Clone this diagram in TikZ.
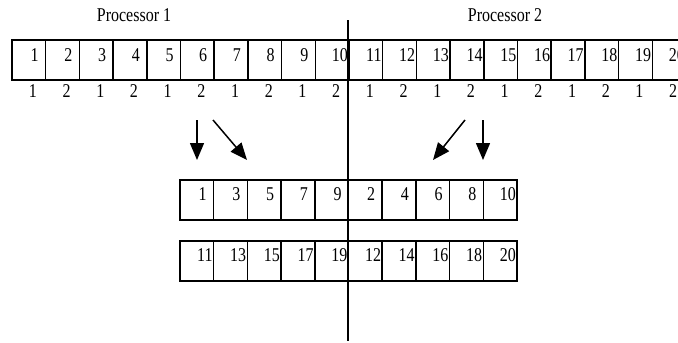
\documentclass[tikz,border=0pt]{standalone}
\usepackage{fontspec}
\setmainfont{Liberation Serif}
\usetikzlibrary{arrows.meta,calc}
\newcommand{\tall}[1]{\scalebox{1}[1.22]{#1}}
\begin{document}
\begin{tikzpicture}[x=1pt,y=-1pt,
  cell/.style={draw,line width=1.5pt,minimum width=33.7pt,minimum height=40pt,inner sep=0pt,outer sep=0pt,anchor=north west},
  num/.style={anchor=base east,inner sep=0pt,font=\fontsize{16}{16}\selectfont},
  lab/.style={anchor=base,inner sep=0pt,font=\fontsize{16}{16}\selectfont},
  arr/.style={line width=1.5pt,-{Triangle[length=17pt,width=14pt]}},
  divider/.style={line width=1.4pt}]
\useasboundingbox (0,0) rectangle (678,343);
\clip (0,0) rectangle (678,343);
% titles
\node[lab] (p1) at (134,21) {\tall{Processor 1}};
\node[lab] (p2) at (505,21) {\tall{Processor 2}};
% divider
\coordinate (dtop) at (348,20);
\coordinate (dbot) at (348,341);
\draw[divider] (dtop) -- (dbot);
% top row
\foreach \i in {1,...,20}{
  \node[cell] (t\i) at ({12+(\i-1)*33.7},40) {};
}
\foreach \i in {1,...,9}{
  \node[num] (tn\i) at ($(t\i.north east)+(-2,21)$) {\tall{\i}\kern0.3em};
}
\foreach \i in {10,...,20}{
  \node[num] (tn\i) at ($(t\i.north east)+(-1,21)$) {\tall{\i}};
}
% parity labels
\foreach \i/\v in {1/1,2/2,3/1,4/2,5/1,6/2,7/1,8/2,9/1,10/2,11/1,12/2,13/1,14/2,15/1,16/2,17/1,18/2,19/1,20/2}{
  \node[lab] (l\i) at ($(t\i.south)+(4,17)$) {\tall{\v}};
}
% second row
\foreach \v [count=\i] in {1,3,5,7,9,2,4,6,8}{
  \node[cell] (s\i) at ({180+(\i-1)*33.7},180) {};
  \node[num] (sn\i) at ($(s\i.north east)+(-2,20)$) {\tall{\v}\kern0.3em};
}
\node[cell] (s10) at ({180+9*33.7},180) {};
\node[num] (sn10) at ($(s10.north east)+(-1,20)$) {\tall{10}};
% third row
\foreach \v [count=\i] in {11,13,15,17,19,12,14,16,18,20}{
  \node[cell] (r\i) at ({180+(\i-1)*33.7},241) {};
  \node[num] (rn\i) at ($(r\i.north east)+(-1,20)$) {\tall{\v}};
}
% arrows
\coordinate (a1s) at (197,120); \coordinate (a1e) at (197,160);
\coordinate (a2s) at (213,120); \coordinate (a2e) at (247,160);
\coordinate (a3s) at (465,120); \coordinate (a3e) at (433,160);
\coordinate (a4s) at (483,120); \coordinate (a4e) at (483,160);
\draw[arr] (a1s) -- (a1e);
\draw[arr] (a2s) -- (a2e);
\draw[arr] (a3s) -- (a3e);
\draw[arr] (a4s) -- (a4e);
\end{tikzpicture}
\end{document}
